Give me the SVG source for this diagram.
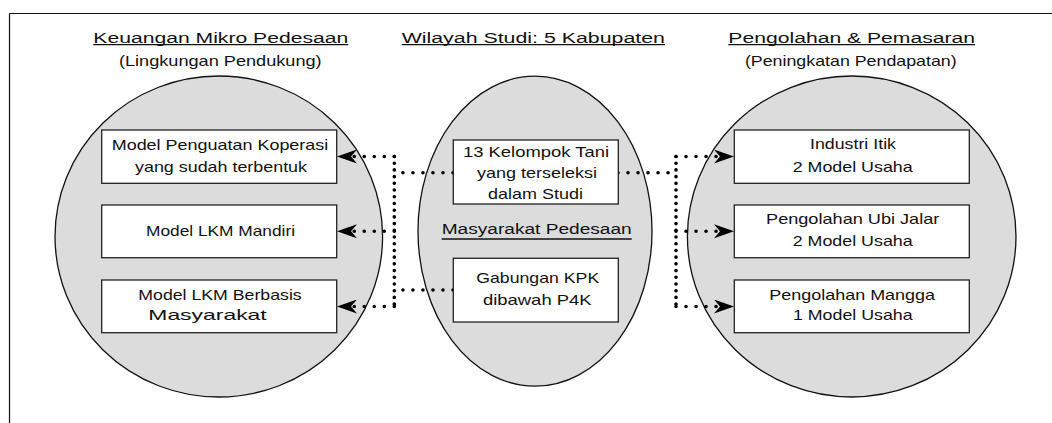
<svg xmlns="http://www.w3.org/2000/svg" width="1052" height="423" viewBox="0 0 1052 423">
<style>
text{font-family:"Liberation Sans",Arial,sans-serif;fill:#111;text-anchor:middle;lengthAdjust:spacingAndGlyphs}
.h{font-size:14px}
.s{font-size:15px}
.b{font-size:15px}
.ell{fill:#dcdcdc;stroke:#111;stroke-width:1.3}
.box{fill:#fff;stroke:#222;stroke-width:1.3}
.ul{stroke:#111;stroke-width:1.3}
.dh{fill:none;stroke:#000;stroke-width:3.6;stroke-linecap:round;stroke-dasharray:0.01 10}
.dv{fill:none;stroke:#000;stroke-width:3.6;stroke-linecap:round;stroke-dasharray:0.01 6.7}
</style>
<defs>
<marker id="arr" markerUnits="userSpaceOnUse" viewBox="0 0 20 14" refX="20" refY="7" markerWidth="20" markerHeight="14" orient="auto">
<path d="M0,0 L20,7 L0,14 L6,7 Z" fill="#000"/>
</marker>
</defs>
<g id="frame">
<line x1="9.5" y1="13.5" x2="1052" y2="13.5" stroke="#111" stroke-width="1.2"/>
<line x1="9.5" y1="13.5" x2="9.5" y2="423" stroke="#111" stroke-width="1.2"/>
</g>
<g id="headings">
<text class="h" x="220.8" y="42.5" textLength="255" lengthAdjust="spacingAndGlyphs">Keuangan Mikro Pedesaan</text>
<line class="ul" x1="93.3" y1="44.6" x2="348.3" y2="44.6"/>
<text class="s" x="220.3" y="65.5" textLength="202.7" lengthAdjust="spacingAndGlyphs">(Lingkungan Pendukung)</text>
<text class="h" x="533.3" y="42.5" textLength="263.3" lengthAdjust="spacingAndGlyphs">Wilayah Studi: 5 Kabupaten</text>
<line class="ul" x1="401.7" y1="44.6" x2="665" y2="44.6"/>
<text class="h" x="851.7" y="42.5" textLength="246.7" lengthAdjust="spacingAndGlyphs">Pengolahan &amp; Pemasaran</text>
<line class="ul" x1="728.3" y1="44.6" x2="975" y2="44.6"/>
<text class="s" x="850.8" y="65.5" textLength="211.7" lengthAdjust="spacingAndGlyphs">(Peningkatan Pendapatan)</text>
</g>
<g id="group-left">
<ellipse class="ell" cx="218.8" cy="236.5" rx="163.8" ry="160.5"/>
</g>
<g id="group-middle">
<ellipse class="ell" cx="535" cy="231.2" rx="117" ry="155"/>
<text class="h" x="536.7" y="234.3" textLength="190" lengthAdjust="spacingAndGlyphs">Masyarakat Pedesaan</text>
<line class="ul" x1="441.7" y1="239" x2="631.7" y2="239"/>
</g>
<g id="group-right">
<ellipse class="ell" cx="851.7" cy="236.5" rx="164.3" ry="160.5"/>
</g>
<g id="connectors">
<line class="dv" x1="394.3" y1="156.5" x2="394.3" y2="306.5"/>
<line class="dh" x1="453" y1="172.7" x2="394.3" y2="172.7"/>
<line class="dh" x1="453" y1="290" x2="394.3" y2="290"/>
<line class="dh" x1="394.3" y1="156.5" x2="337" y2="156.5" marker-end="url(#arr)"/>
<line class="dh" x1="394.3" y1="231.3" x2="337" y2="231.3" marker-end="url(#arr)"/>
<line class="dh" x1="394.3" y1="306.5" x2="337" y2="306.5" marker-end="url(#arr)"/>
<line class="dv" x1="676" y1="156.5" x2="676" y2="306.5"/>
<line class="dh" x1="618" y1="172.7" x2="676" y2="172.7"/>
<line class="dh" x1="676" y1="156.5" x2="734" y2="156.5" marker-end="url(#arr)"/>
<line class="dh" x1="676" y1="231.3" x2="734" y2="231.3" marker-end="url(#arr)"/>
<line class="dh" x1="676" y1="306.5" x2="734" y2="306.5" marker-end="url(#arr)"/>
</g>
<g id="node-koperasi">
<rect class="box" x="101.7" y="130" width="235" height="53.3"/>
<text class="b" x="220" y="150" textLength="216.6" lengthAdjust="spacingAndGlyphs">Model Penguatan Koperasi</text>
<text class="b" x="221" y="171.7" textLength="172" lengthAdjust="spacingAndGlyphs">yang sudah terbentuk</text>
</g>
<g id="node-lkm-mandiri">
<rect class="box" x="101.7" y="205" width="235" height="52.7"/>
<text class="b" x="220.5" y="236" textLength="149" lengthAdjust="spacingAndGlyphs">Model LKM Mandiri</text>
</g>
<g id="node-lkm-masyarakat">
<rect class="box" x="101.7" y="280" width="235" height="52.7"/>
<text class="b" x="220" y="300" textLength="163.4" lengthAdjust="spacingAndGlyphs">Model LKM Berbasis</text>
<text class="b" x="207.5" y="320" textLength="118.4" lengthAdjust="spacingAndGlyphs">Masyarakat</text>
</g>
<g id="node-kelompok-tani">
<rect class="box" x="453.3" y="140" width="165" height="64"/>
<text class="b" x="536" y="157.3" textLength="146" lengthAdjust="spacingAndGlyphs">13 Kelompok Tani</text>
<text class="b" x="537" y="178.3" textLength="120" lengthAdjust="spacingAndGlyphs">yang terseleksi</text>
<text class="b" x="535.5" y="199.3" textLength="95" lengthAdjust="spacingAndGlyphs">dalam Studi</text>
</g>
<g id="node-gabungan-kpk">
<rect class="box" x="453.3" y="258.3" width="165" height="63.7"/>
<text class="b" x="537.7" y="283.3" textLength="123" lengthAdjust="spacingAndGlyphs">Gabungan KPK</text>
<text class="b" x="537.3" y="305" textLength="108.7" lengthAdjust="spacingAndGlyphs">dibawah P4K</text>
</g>
<g id="node-itik">
<rect class="box" x="734.3" y="130" width="235" height="53.3"/>
<text class="b" x="853" y="149.3" textLength="86" lengthAdjust="spacingAndGlyphs">Industri Itik</text>
<text class="b" x="852.7" y="171.7" textLength="120" lengthAdjust="spacingAndGlyphs">2 Model Usaha</text>
</g>
<g id="node-ubi-jalar">
<rect class="box" x="734.3" y="205" width="235" height="52.7"/>
<text class="b" x="852.7" y="224.3" textLength="173.3" lengthAdjust="spacingAndGlyphs">Pengolahan Ubi Jalar</text>
<text class="b" x="852.7" y="246" textLength="120" lengthAdjust="spacingAndGlyphs">2 Model Usaha</text>
</g>
<g id="node-mangga">
<rect class="box" x="734.3" y="280" width="235" height="52.7"/>
<text class="b" x="852.2" y="300" textLength="165.7" lengthAdjust="spacingAndGlyphs">Pengolahan Mangga</text>
<text class="b" x="852.8" y="320" textLength="119.7" lengthAdjust="spacingAndGlyphs">1 Model Usaha</text>
</g>
</svg>
